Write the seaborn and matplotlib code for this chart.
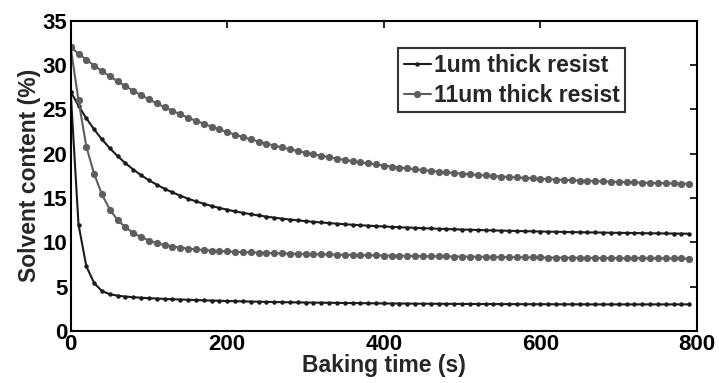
import numpy as np
import pandas as pd
import matplotlib
matplotlib.use("Agg")
import matplotlib.pyplot as plt
import seaborn as sns

# ---- data ----
baking_time = list(range(0, 800, 10))  # s

# 1um thick resist, slow curve
thin_slow = [27.00, 25.41, 23.99, 22.73, 21.61, 20.61, 19.72, 18.92, 18.21, 17.57,
             17.00, 16.50, 16.04, 15.63, 15.26, 14.92, 14.62, 14.35, 14.10, 13.88,
             13.68, 13.49, 13.33, 13.17, 13.03, 12.90, 12.78, 12.67, 12.57, 12.48,
             12.39, 12.31, 12.24, 12.17, 12.10, 12.04, 11.98, 11.93, 11.88, 11.83,
             11.79, 11.74, 11.70, 11.67, 11.63, 11.59, 11.56, 11.53, 11.50, 11.47,
             11.44, 11.42, 11.39, 11.37, 11.34, 11.32, 11.30, 11.28, 11.26, 11.24,
             11.22, 11.20, 11.19, 11.17, 11.15, 11.14, 11.12, 11.11, 11.10, 11.08,
             11.07, 11.06, 11.05, 11.03, 11.02, 11.01, 11.00, 10.99, 10.98, 10.97]

# 1um thick resist, fast curve
thin_fast = [27.00, 12.00, 7.30, 5.40, 4.50, 4.15, 3.98, 3.88, 3.81, 3.75,
             3.70, 3.66, 3.62, 3.58, 3.55, 3.52, 3.49, 3.46, 3.43, 3.41,
             3.38, 3.36, 3.34, 3.32, 3.30, 3.28, 3.27, 3.25, 3.24, 3.22,
             3.21, 3.20, 3.19, 3.18, 3.17, 3.16, 3.15, 3.14, 3.13, 3.12,
             3.11, 3.10, 3.10, 3.09, 3.08, 3.08, 3.07, 3.07, 3.06, 3.06,
             3.05, 3.05, 3.04, 3.04, 3.04, 3.03, 3.03, 3.03, 3.02, 3.02,
             3.02, 3.02, 3.01, 3.01, 3.01, 3.01, 3.00, 3.00, 3.00, 3.00,
             3.00, 3.00, 3.00, 3.00, 3.00, 3.00, 3.00, 3.00, 3.00, 3.00]

# 11um thick resist, slow curve
thick_slow = [32.00, 31.28, 30.60, 29.94, 29.32, 28.72, 28.15, 27.61, 27.09, 26.60,
              26.12, 25.67, 25.24, 24.83, 24.44, 24.06, 23.71, 23.37, 23.04, 22.73,
              22.43, 22.15, 21.88, 21.62, 21.37, 21.14, 20.91, 20.70, 20.50, 20.30,
              20.11, 19.94, 19.77, 19.60, 19.45, 19.30, 19.16, 19.03, 18.90, 18.78,
              18.66, 18.55, 18.44, 18.34, 18.24, 18.15, 18.06, 17.98, 17.89, 17.82,
              17.74, 17.67, 17.61, 17.54, 17.48, 17.42, 17.37, 17.32, 17.26, 17.22,
              17.17, 17.13, 17.08, 17.04, 17.01, 16.97, 16.93, 16.90, 16.87, 16.84,
              16.81, 16.78, 16.76, 16.73, 16.71, 16.68, 16.66, 16.64, 16.62, 16.60]

# 11um thick resist, fast curve
thick_fast = [32.00, 26.00, 20.80, 17.70, 15.40, 13.70, 12.50, 11.70, 11.05, 10.60,
              10.20, 9.90, 9.70, 9.52, 9.40, 9.30, 9.20, 9.13, 9.07, 9.02,
              8.98, 8.94, 8.90, 8.87, 8.84, 8.81, 8.78, 8.76, 8.73, 8.71,
              8.69, 8.67, 8.65, 8.63, 8.61, 8.59, 8.57, 8.56, 8.54, 8.53,
              8.51, 8.50, 8.48, 8.47, 8.46, 8.44, 8.43, 8.42, 8.41, 8.40,
              8.39, 8.38, 8.37, 8.36, 8.35, 8.34, 8.33, 8.32, 8.31, 8.30,
              8.29, 8.28, 8.28, 8.27, 8.26, 8.25, 8.25, 8.24, 8.23, 8.23,
              8.22, 8.21, 8.21, 8.20, 8.20, 8.19, 8.19, 8.18, 8.18, 8.17]

legend_labels = ["1um thick resist", "11um thick resist"]
x_ticks = [0, 200, 400, 600, 800]
y_ticks = [0, 5, 10, 15, 20, 25, 30, 35]

# ---- plotting ----
sns.set_theme(style="white")
plt.rcParams['font.family'] = ['Liberation Sans', 'DejaVu Sans']
plt.rcParams['font.weight'] = 'bold'

fig = plt.figure(figsize=(7.19, 3.83), dpi=100)
ax = fig.add_axes([0.0983, 0.1358, 0.8711, 0.8102])

dark = "#1c1c1c"
gray = "#5e5e5e"

series = [
    (thin_slow, dark, 3.2, legend_labels[0]),
    (thin_fast, dark, 3.2, None),
    (thick_slow, gray, 5.2, legend_labels[1]),
    (thick_fast, gray, 5.2, None),
]
for vals, col, ms, lab in series:
    df = pd.DataFrame({"t": baking_time, "v": vals})
    sns.lineplot(data=df, x="t", y="v", ax=ax, color=col, linewidth=1.5,
                 marker="o", markersize=ms, markeredgewidth=0,
                 label=lab if lab else "_nolegend_")

ax.set_xlim(0, 800)
ax.set_ylim(0, 35)
ax.set_xticks(x_ticks)
ax.set_yticks(y_ticks)
ax.set_xlabel("Baking time (s)", fontsize=16.5, fontweight='bold', labelpad=-1)
ax.set_ylabel("Solvent content (%)", fontsize=16.5, fontweight='bold', labelpad=1)
ax.tick_params(axis='both', which='both', direction='in', length=5, width=1.2,
               top=True, right=True, labelsize=16, pad=2.5, colors='black')
for lab in ax.get_xticklabels() + ax.get_yticklabels():
    lab.set_fontweight('bold')
for sp in ax.spines.values():
    sp.set_visible(True)
    sp.set_color('black')
    sp.set_linewidth(1.5)

leg = ax.legend(loc='upper left', bbox_to_anchor=(0.5226, 0.912), frameon=True,
                fancybox=False, edgecolor='black', fontsize=16.5,
                handlelength=1.2, handletextpad=0.1, borderpad=0.25,
                labelspacing=0.3, borderaxespad=0)
leg.get_frame().set_linewidth(1.5)
for t in leg.get_texts():
    t.set_fontweight('bold')

fig.savefig("out.png", dpi=100, facecolor='white')
